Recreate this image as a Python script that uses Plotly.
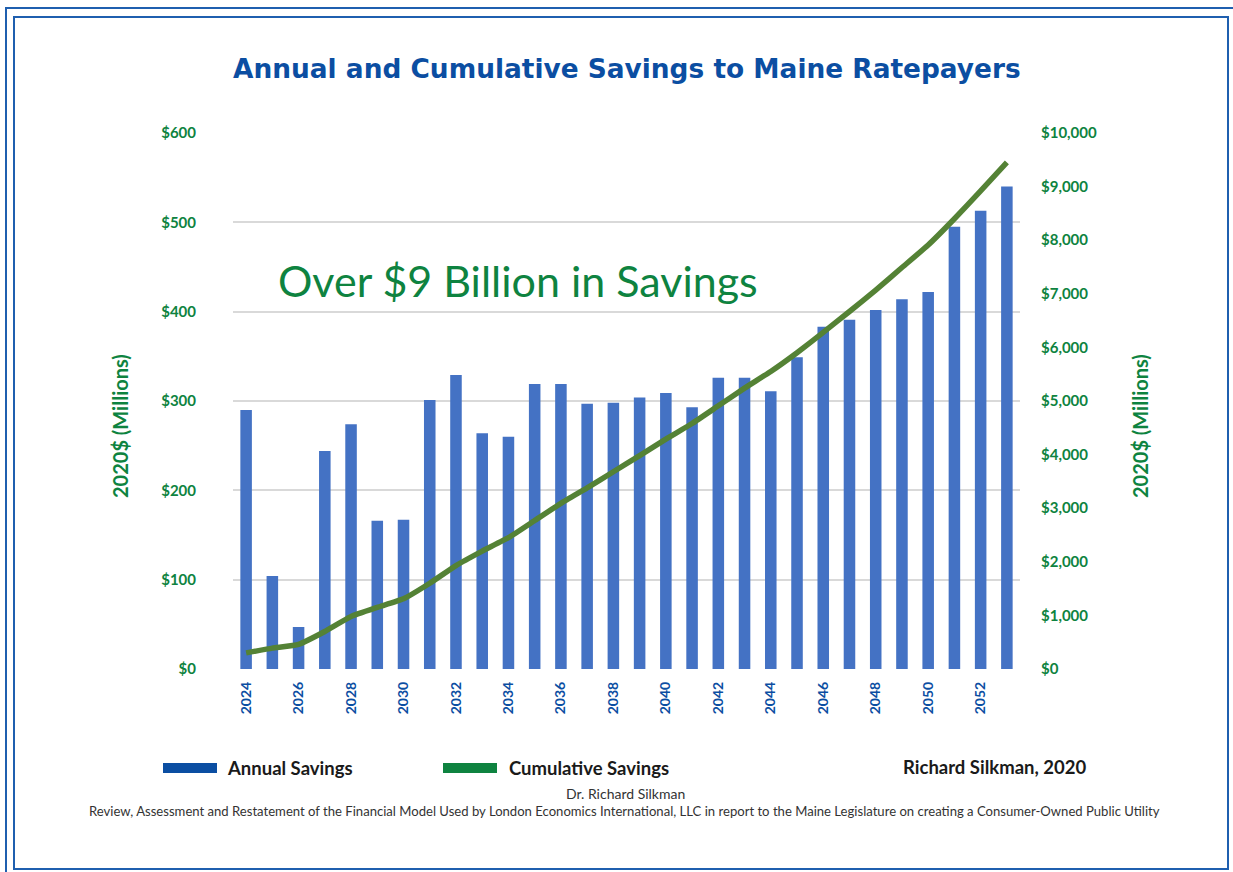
import plotly.graph_objects as go

years = list(range(2024, 2054))
annual_savings = [290, 104, 47, 244, 274, 166, 167, 301, 329, 264, 260, 319, 319, 297, 298,
                  304, 309, 293, 326, 326, 311, 349, 383, 391, 402, 414, 422, 495, 513, 540]
cumulative_savings = [300, 390, 460, 700, 980, 1150, 1310, 1600, 1930, 2200, 2450, 2770, 3090, 3380, 3680,
                      3980, 4290, 4580, 4910, 5240, 5550, 5900, 6280, 6670, 7070, 7490, 7910, 8400, 8920, 9450]
left_ticks = [0, 100, 200, 300, 400, 500, 600]
left_tick_labels = ["$0", "$100", "$200", "$300", "$400", "$500", "$600"]
right_ticks = list(range(0, 10001, 1000))
right_tick_labels = ["$0", "$1,000", "$2,000", "$3,000", "$4,000", "$5,000", "$6,000",
                     "$7,000", "$8,000", "$9,000", "$10,000"]

W, H = 1233, 872
L, R, T, B = 233, 1020, 133, 669

def px(x):
    return (x - L) / (R - L)

def py(y):
    return (B - y) / (B - T)

GREEN = "#0E8340"
BLUE = "#0B4EA2"
BAR = "#4472C4"
LINE = "#548235"

fig = go.Figure()
fig.add_trace(go.Bar(x=years, y=annual_savings, marker=dict(color=BAR, line=dict(width=0)),
                     name="Annual Savings", yaxis="y"))
fig.add_trace(go.Scatter(x=years, y=cumulative_savings, mode="lines",
                         line=dict(color=LINE, width=5.5, shape="spline", smoothing=0.4),
                         name="Cumulative Savings", yaxis="y2"))

fig.update_layout(
    width=W, height=H,
    margin=dict(l=L, r=W - R, t=T, b=H - B),
    paper_bgcolor="white", plot_bgcolor="white",
    showlegend=False,
    bargap=0.56,
    font=dict(family="Lato"),
    xaxis=dict(range=[2023.5, 2053.5], tickmode="array", tickvals=years[::2],
               ticktext=[str(y) for y in years[::2]], tickangle=-90,
               tickfont=dict(family="Lato", size=14, color=BLUE, weight="bold"),
               showgrid=False, zeroline=False, showline=False, ticks="", ticklabelstandoff=9),
    yaxis=dict(range=[0, 600], tickmode="array", tickvals=left_ticks, ticktext=left_tick_labels,
               tickfont=dict(family="Lato", size=15, color=GREEN, weight="bold"),
               showgrid=True, gridcolor="#D9D9D9", gridwidth=2, zeroline=False, showline=False,
               ticks="", ticklabelstandoff=36),
    yaxis2=dict(range=[0, 10000], overlaying="y", side="right", tickmode="array",
                tickvals=right_ticks, ticktext=right_tick_labels,
                tickfont=dict(family="Lato", size=15, color=GREEN, weight="bold"),
                showgrid=False, zeroline=False, showline=False, ticks="", ticklabelstandoff=20),
)

annotations = [
    dict(text="Annual and Cumulative Savings to Maine Ratepayers", x=px(627), y=py(68),
         font=dict(family="DejaVu Sans", size=26.4, color=BLUE, weight="bold")),
    dict(text="Over $9 Billion in Savings", x=px(518), y=py(280),
         font=dict(family="Lato", size=43, color=GREEN)),
    dict(text="2020$ (Millions)", x=px(120), y=py(426), textangle=-90,
         font=dict(family="Lato", size=20, color=GREEN, weight="bold")),
    dict(text="2020$ (Millions)", x=px(1140), y=py(426), textangle=-90,
         font=dict(family="Lato", size=20, color=GREEN, weight="bold")),
    dict(text="Annual Savings", x=px(225), y=py(768), xanchor="left",
         font=dict(family="Lato", size=18.5, color="#1a1a1a", weight="bold")),
    dict(text="Cumulative Savings", x=px(507), y=py(768), xanchor="left",
         font=dict(family="Lato", size=18.5, color="#1a1a1a", weight="bold")),
    dict(text="Richard Silkman, 2020", x=px(1088), y=py(767), xanchor="right",
         font=dict(family="Lato", size=18.5, color="#1a1a1a", weight="bold")),
    dict(text="Dr. Richard Silkman", x=px(625), y=py(793),
         font=dict(family="Lato", size=14, color="#333333")),
    dict(text="Review, Assessment and Restatement of the Financial Model Used by London Economics International, LLC in report to the Maine Legislature on creating a Consumer-Owned Public Utility",
         x=px(624), y=py(811), font=dict(family="Lato", size=13.1, color="#333333")),
]
for a in annotations:
    a.update(xref="paper", yref="paper", showarrow=False)
    a.setdefault("xanchor", "center")
    a.setdefault("yanchor", "middle")
fig.update_layout(annotations=annotations)

shapes = [
    dict(type="rect", x0=px(6), x1=px(1245), y0=py(8), y1=py(890), line=dict(color="#1F5FAF", width=2)),
    dict(type="rect", x0=px(14), x1=px(1228), y0=py(17), y1=py(869), line=dict(color="#1F5FAF", width=2)),
    dict(type="rect", x0=px(163), x1=px(217), y0=py(763), y1=py(773), fillcolor=BLUE, line=dict(width=0)),
    dict(type="rect", x0=px(443), x1=px(497), y0=py(763), y1=py(773), fillcolor=GREEN, line=dict(width=0)),
]
for s in shapes:
    s.update(xref="paper", yref="paper", layer="above")
fig.update_layout(shapes=shapes)

fig.write_html("out.html", config={"displayModeBar": False},
               post_script="document.body.style.margin='0';document.body.style.overflow='hidden';")
